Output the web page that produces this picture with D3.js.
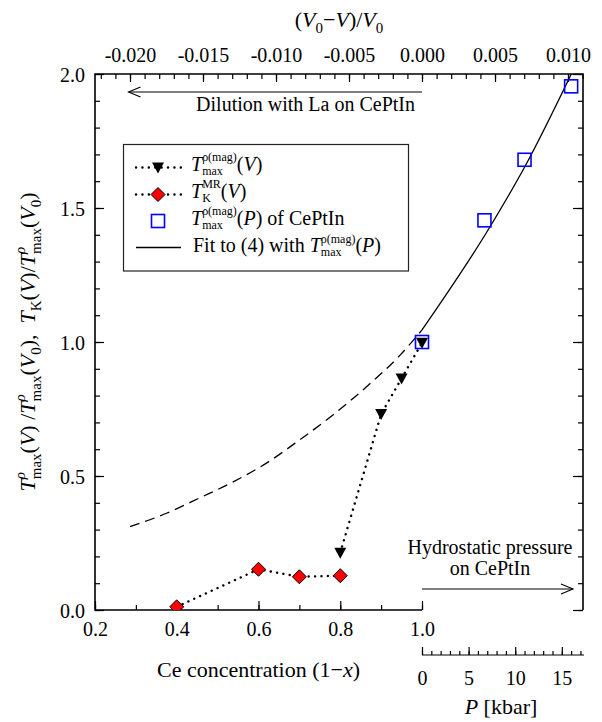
<!DOCTYPE html>
<html>
<head>
<meta charset="utf-8">
<script src="https://cdn.jsdelivr.net/npm/d3@7"></script>
<style>
  html, body { margin: 0; padding: 0; background: #fff; }
  svg { display: block; font-family: "Liberation Serif", "Times New Roman", serif; }
  text { fill: #000; white-space: pre; }
</style>
</head>
<body>
<svg id="chart" width="602" height="722"></svg>
<script>
// ---- data ----
// Dilution series (Ce1-xLaxPtIn): T_max of magnetic resistivity, normalised
const triConc = [0.8, 0.9, 0.95, 1.0];
const triT    = [0.214, 0.731, 0.864, 0.997];
// Kondo temperature from magnetoresistance, normalised
const diaConc = [0.4, 0.6, 0.7, 0.8];
const diaT    = [0.012, 0.152, 0.124, 0.128];
// Hydrostatic pressure on CePtIn
const sqP = [0, 6.7, 11.0, 16.0];
const sqT = [1.0, 1.454, 1.680, 1.954];
// Fit curve, relative volume change (V0-V)/V0 vs normalised T
const fitVol = [-0.0200, -0.0175, -0.0152, -0.0129, -0.0106, -0.0084, -0.0061, -0.0038, -0.0015, 0.0000, 0.00466, 0.00717, 0.01025];
const fitT   = [0.311, 0.361, 0.419, 0.479, 0.550, 0.634, 0.728, 0.833, 0.951, 1.045, 1.430, 1.667, 2.003];

// tick values and labels
const yMajor = [0, 0.5, 1.0, 1.5, 2.0];
const yMajorLabels = ["0.0", "0.5", "1.0", "1.5", "2.0"];
const yMinor = d3.range(0, 2.001, 0.1);
const concMajor = [0.2, 0.4, 0.6, 0.8, 1.0];
const concMajorLabels = ["0.2", "0.4", "0.6", "0.8", "1.0"];
const concMinor = d3.range(0.2, 1.001, 0.1);
const volMajor = [-0.020, -0.015, -0.010, -0.005, 0.000, 0.005, 0.010];
const volMajorLabels = ["-0.020", "-0.015", "-0.010", "-0.005", "0.000", "0.005", "0.010"];
const volMinor = d3.range(-0.022, 0.0111, 0.001);
const pMajor = [0, 5, 10, 15];
const pMajorLabels = ["0", "5", "10", "15"];
const pMinor = d3.range(0, 17.5, 1);

// ---- layout ----
const L = 95, R = 583, T = 74, B = 610, SPLIT = 422, PAXIS = 655;
const svg = d3.select("#chart");

const y = d3.scaleLinear().domain([0, 2.0]).range([B, T]);
const xConc = d3.scaleLinear().domain([0.2, 1.0]).range([L, SPLIT]);
const xVol = d3.scaleLinear().domain([-0.022397, 0.011027]).range([L, R]);
const xP = d3.scaleLinear().domain([0, 17.38]).range([SPLIT, 584]);

// ---- rich text helper: one <text> with tspans (italic, sub/superscripts) ----
function rich(parent, x, y0, segs, opt) {
  const g = parent.append("g");
  const txt = g.append("text").attr("font-size", opt.size);
  let cx = 0;
  const put = (p, x0) => {
    const t = txt.append("tspan")
      .attr("x", x0).attr("y", p.dy || 0)
      .attr("font-size", p.sz || opt.size)
      .attr("font-style", p.it ? "italic" : "normal")
      .text(p.t);
    return t.node().getComputedTextLength();
  };
  segs.forEach(s => {
    if (s.stack) {
      cx += d3.max(s.stack.map(p => put(p, cx)));
    } else {
      cx += put(s, cx);
    }
  });
  let shift = 0;
  if (opt.anchor === "middle") shift = -cx / 2;
  if (opt.anchor === "end") shift = -cx;
  const rot = opt.rotate ? ` rotate(${opt.rotate})` : "";
  g.attr("transform", `translate(${x},${y0})${rot} translate(${shift},0)`);
  return g;
}
const it = (t) => ({ t, it: true });
const rm = (t) => ({ t });

// ---- axes ----
function styleAxis(g) {
  g.select(".domain").remove();
  g.selectAll("line").attr("stroke", "#000").attr("stroke-width", 1.2);
  g.selectAll("text").attr("font-family", "Liberation Serif").attr("font-size", 20).attr("fill", "#000");
}

// left
svg.append("g").attr("transform", `translate(${L},0)`)
  .call(d3.axisLeft(y).tickValues(yMinor).tickSize(-5).tickFormat(""))
  .call(styleAxis);
svg.append("g").attr("transform", `translate(${L},0)`)
  .call(d3.axisLeft(y).tickValues(yMajor).tickSize(-9).tickPadding(10)
    .tickFormat((d, i) => yMajorLabels[i]))
  .call(styleAxis)
  .call(g => g.selectAll("text").attr("dy", "0.35em"));
// right
svg.append("g").attr("transform", `translate(${R},0)`)
  .call(d3.axisRight(y).tickValues(yMinor).tickSize(-5).tickFormat(""))
  .call(styleAxis);
svg.append("g").attr("transform", `translate(${R},0)`)
  .call(d3.axisRight(y).tickValues(yMajor).tickSize(-10).tickFormat(""))
  .call(styleAxis);
// bottom: Ce concentration
svg.append("g").attr("transform", `translate(0,${B})`)
  .call(d3.axisBottom(xConc).tickValues(concMinor).tickSize(-5).tickFormat(""))
  .call(styleAxis);
svg.append("g").attr("transform", `translate(0,${B})`)
  .call(d3.axisBottom(xConc).tickValues(concMajor).tickSize(-9).tickPadding(12)
    .tickFormat((d, i) => concMajorLabels[i]))
  .call(styleAxis);
// top: relative volume
svg.append("g").attr("transform", `translate(0,${T})`)
  .call(d3.axisTop(xVol).tickValues(volMinor).tickSize(-5).tickFormat(""))
  .call(styleAxis);
svg.append("g").attr("transform", `translate(0,${T})`)
  .call(d3.axisTop(xVol).tickValues(volMajor).tickSize(-8).tickPadding(12)
    .tickFormat((d, i) => volMajorLabels[i]))
  .call(styleAxis);
// pressure axis
svg.append("line").attr("x1", xP(0)).attr("x2", xP.range()[1])
  .attr("y1", PAXIS).attr("y2", PAXIS).attr("stroke", "#000").attr("stroke-width", 1.2);
svg.append("g").attr("transform", `translate(0,${PAXIS})`)
  .call(d3.axisBottom(xP).tickValues(pMinor).tickSize(-4).tickFormat(""))
  .call(styleAxis);
svg.append("g").attr("transform", `translate(0,${PAXIS})`)
  .call(d3.axisBottom(xP).tickValues(pMajor).tickSize(-8).tickPadding(16)
    .tickFormat((d, i) => pMajorLabels[i]))
  .call(styleAxis);

// frame
svg.append("path")
  .attr("d", `M${SPLIT},${B} L${L},${B} L${L},${T} L${R},${T} L${R},${B}`)
  .attr("fill", "none").attr("stroke", "#000").attr("stroke-width", 1.6);

// ---- axis titles ----
rich(svg, (L + R) / 2, 27, [
  rm("("), it("V"), { t: "0", sz: 15, dy: 6 }, rm("\u2212"), it("V"), rm(")/"), it("V"), { t: "0", sz: 15, dy: 6 }
], { size: 22, anchor: "middle" });

rich(svg, (L + SPLIT) / 2, 677, [
  rm("Ce concentration (1\u2212"), it("x"), rm(")")
], { size: 22, anchor: "middle" });

rich(svg, 501, 714, [it("P"), rm(" [kbar]")], { size: 22, anchor: "middle" });

const sT = (sup, sub, supIt) => ({ stack: [
  { t: sup, sz: 15, dy: -10, it: supIt }, { t: sub, sz: 15, dy: 6 }
] });
rich(svg, 35, (T + B) / 2, [
  it("T"), sT("\u03C1", "max", true), rm("("), it("V"), rm(") /"),
  it("T"), sT("\u03C1", "max", true), rm("("), it("V"), { t: "0", sz: 15, dy: 6 }, rm("),  "),
  it("T"), { t: "K", sz: 15, dy: 6 }, rm("("), it("V"), rm(")/"),
  it("T"), sT("\u03C1", "max", true), rm("("), it("V"), { t: "0", sz: 15, dy: 6 }, rm(")")
], { size: 22, anchor: "middle", rotate: -90 });

// ---- annotations ----
function arrow(x1, x2, yy) {
  const dir = x2 > x1 ? -1 : 1;
  svg.append("line").attr("x1", x1).attr("x2", x2).attr("y1", yy).attr("y2", yy)
    .attr("stroke", "#000").attr("stroke-width", 1.1);
  svg.append("path")
    .attr("d", `M${x2 + dir * 12},${yy - 5} L${x2},${yy} L${x2 + dir * 12},${yy + 5}`)
    .attr("fill", "none").attr("stroke", "#000").attr("stroke-width", 1.1);
}
arrow(xVol(0), xVol(-0.0201), 92);
svg.append("text").attr("x", 415).attr("y", 111).attr("text-anchor", "end")
  .attr("font-size", 20).text("Dilution with La on CePtIn");

arrow(SPLIT, 573, 589);
svg.append("text").attr("x", 490).attr("y", 554).attr("text-anchor", "middle")
  .attr("font-size", 20).text("Hydrostatic pressure");
svg.append("text").attr("x", 490).attr("y", 575).attr("text-anchor", "middle")
  .attr("font-size", 20).text("on CePtIn");

// ---- plot contents ----
svg.append("clipPath").attr("id", "plotclip").append("rect")
  .attr("x", L).attr("y", T).attr("width", R - L).attr("height", B - T);
const plot = svg.append("g").attr("clip-path", "url(#plotclip)");

const fit = fitVol.map((v, i) => ({ v, t: fitT[i] }));
const fitLine = d3.line().x(d => xVol(d.v)).y(d => y(d.t)).curve(d3.curveMonotoneX);
plot.append("path").datum(fit.filter(d => d.v <= 0))
  .attr("d", fitLine).attr("fill", "none").attr("stroke", "#000")
  .attr("stroke-width", 1.3).attr("stroke-dasharray", "10,6");
plot.append("path").datum(fit.filter(d => d.v >= 0))
  .attr("d", fitLine).attr("fill", "none").attr("stroke", "#000").attr("stroke-width", 1.3);

const dotted = (sel) => sel.attr("fill", "none").attr("stroke", "#000")
  .attr("stroke-width", 2.4).attr("stroke-linecap", "round").attr("stroke-dasharray", "0.1,6.3");

const tri = triConc.map((c, i) => ({ c, t: triT[i] }));
const dia = diaConc.map((c, i) => ({ c, t: diaT[i] }));
const cLine = d3.line().x(d => xConc(d.c)).y(d => y(d.t));
plot.append("path").datum(tri).attr("d", cLine).call(dotted);
plot.append("path").datum(dia).attr("d", cLine).call(dotted);

const triPath = "M-6,-5 L6,-5 L0,6 Z";
const diaPath = "M0,-7 L7,0 L0,7 L-7,0 Z";
plot.selectAll(".tri").data(tri).join("path")
  .attr("transform", d => `translate(${xConc(d.c)},${y(d.t)})`)
  .attr("d", triPath).attr("fill", "#000");
plot.selectAll(".dia").data(dia).join("path")
  .attr("transform", d => `translate(${xConc(d.c)},${y(d.t)})`)
  .attr("d", diaPath).attr("fill", "#ff0000").attr("stroke", "#000").attr("stroke-width", 1);

const sq = sqP.map((p, i) => ({ p, t: sqT[i] }));
svg.selectAll(".sq").data(sq).join("rect")
  .attr("x", d => xP(d.p) - 6.5).attr("y", d => y(d.t) - 6.5)
  .attr("width", 13).attr("height", 13)
  .attr("fill", "none").attr("stroke", "#0000ff").attr("stroke-width", 1.6);

// ---- legend ----
const lg = svg.append("g");
lg.append("rect").attr("x", 123.5).attr("y", 144.5).attr("width", 285).attr("height", 126.5)
  .attr("fill", "#fff").attr("stroke", "#222").attr("stroke-width", 1.2);
const baseY = [170.5, 197.5, 224.5, 252];   // text baselines
const symY = [167.5, 194.5, 221, 247.5];    // symbol centres
const symX = 158, txtX = 191;
const supSub = (sup, sub) => ({ stack: [{ t: sup, sz: 12, dy: -9.5 }, { t: sub, sz: 12, dy: 4 }] });
// row 1
lg.append("line").attr("x1", 136).attr("x2", 181).attr("y1", symY[0]).attr("y2", symY[0]).call(dotted);
lg.append("path").attr("transform", `translate(${symX},${symY[0]})`).attr("d", triPath).attr("fill", "#000");
rich(lg, txtX, baseY[0], [
  it("T"), supSub("\u03C1(mag)", "max"), rm("("), it("V"), rm(")")
], { size: 20 });
// row 2
lg.append("line").attr("x1", 136).attr("x2", 181).attr("y1", symY[1]).attr("y2", symY[1]).call(dotted);
lg.append("path").attr("transform", `translate(${symX},${symY[1]})`).attr("d", diaPath)
  .attr("fill", "#ff0000").attr("stroke", "#000").attr("stroke-width", 1);
rich(lg, txtX, baseY[1], [
  it("T"), supSub("MR", "K"), rm("("), it("V"), rm(")")
], { size: 20 });
// row 3
lg.append("rect").attr("x", symX - 6.5).attr("y", symY[2] - 6.5).attr("width", 13).attr("height", 13)
  .attr("fill", "none").attr("stroke", "#0000ff").attr("stroke-width", 1.6);
rich(lg, txtX, baseY[2], [
  it("T"), supSub("\u03C1(mag)", "max"), rm("("), it("P"), rm(") of CePtIn")
], { size: 20 });
// row 4
lg.append("line").attr("x1", 136).attr("x2", 181).attr("y1", symY[3]).attr("y2", symY[3])
  .attr("stroke", "#000").attr("stroke-width", 1.3);
rich(lg, txtX + 2, baseY[3], [
  rm("Fit to (4) with "), it("T"), supSub("\u03C1(mag)", "max"), rm("("), it("P"), rm(")")
], { size: 20 });
</script>
</body>
</html>
